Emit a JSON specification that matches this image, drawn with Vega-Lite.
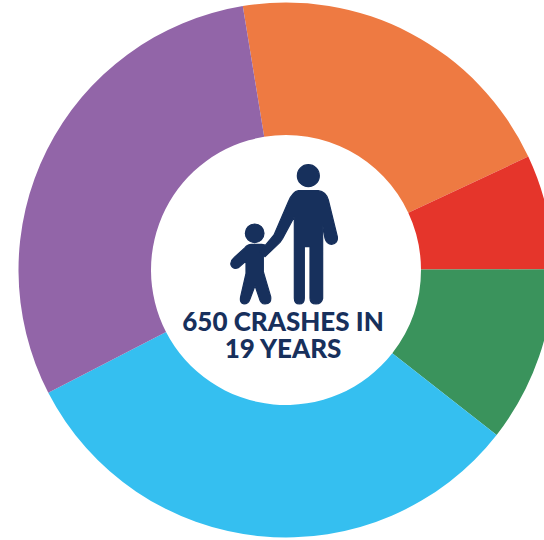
{
  "$schema": "https://vega.github.io/schema/vega-lite/v6.json",
  "width": 544,
  "height": 540,
  "padding": 0,
  "autosize": "none",
  "background": "white",
  "view": {"stroke": null},
  "layer": [
    {
      "data": {"values": [
        {"segment": "A", "crashes": 134, "rank": 1},
        {"segment": "B", "crashes": 45, "rank": 2},
        {"segment": "C", "crashes": 69, "rank": 3},
        {"segment": "D", "crashes": 207, "rank": 4},
        {"segment": "E", "crashes": 195, "rank": 5}
      ]},
      "mark": {"type": "arc", "radius": 267.5, "radius2": 135, "xOffset": 14},
      "encoding": {
        "theta": {"field": "crashes", "type": "quantitative", "stack": true, "scale": {"range": [-0.1623, 6.1209]}},
        "order": {"field": "rank", "type": "quantitative"},
        "color": {
          "field": "segment",
          "type": "nominal",
          "legend": null,
          "scale": {"domain": ["A", "B", "C", "D", "E"], "range": ["#EE7A42", "#E5352B", "#3A935C", "#35BFF0", "#9265A8"]}
        }
      }
    },
    {
      "data": {"values": [{"icon": "adult and child"}]},
      "mark": {
        "type": "point",
        "filled": true,
        "opacity": 1,
        "color": "#17305C",
        "stroke": "#17305C",
        "strokeWidth": 1.2,
        "size": 0.4444,
        "shape": "M37,-238 L97,-238 Q120,-235 127,-210 L154,-100 Q157,-80 137,-77 Q122,-77 117,-95 L110,-135 L110,85 Q107,102 90,102 Q72,102 72,85 L72,-70 L55,-70 L55,85 Q55,102 40,102 Q25,102 25,85 L25,-160 L-10,-95 L-18,-83 L-63,-40 L-78,-55 L-36,-105 L7,-205 Q20,-235 37,-238 Z M34,-283 A33,33 0 1,1 100,-283 A33,33 0 1,1 34,-283 Z M-103,-77 L-73,-77 L-63,-75 L-68,-45 L-68,5 L-46,80 Q-43,102 -63,102 Q-76,102 -80,85 L-93,47 L-108,87 Q-113,102 -126,102 Q-140,100 -136,80 L-120,10 L-120,-27 L-143,-7 Q-158,0 -165,-15 Q-168,-27 -156,-37 L-123,-67 Q-116,-77 -103,-77 Z M-122,-110 A28,28 0 1,1 -66,-110 A28,28 0 1,1 -122,-110 Z",
        "xOffset": 14
      },
      "encoding": {}
    },
    {
      "data": {"values": [{"label": "650 CRASHES IN\n19 YEARS"}]},
      "mark": {
        "type": "text",
        "font": "Lato",
        "fontWeight": 900,
        "fontSize": 26,
        "lineBreak": "\n",
        "lineHeight": 27,
        "align": "center",
        "baseline": "middle",
        "color": "#17305C",
        "xOffset": 11,
        "yOffset": 53
      },
      "encoding": {"text": {"field": "label", "type": "nominal"}}
    }
  ]
}
